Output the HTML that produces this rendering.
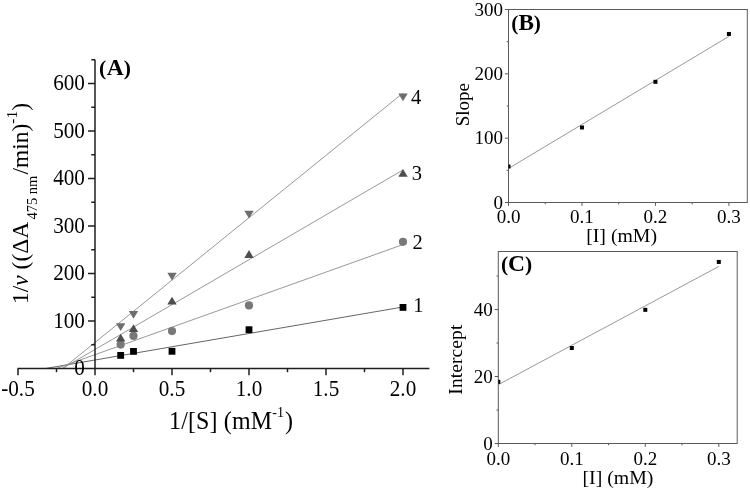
<!DOCTYPE html><html><head><meta charset="utf-8"><style>html,body{margin:0;padding:0;background:#fff;width:750px;height:489px;overflow:hidden}svg{display:block;will-change:transform}text{font-family:"Liberation Serif",serif}</style></head><body><svg width="750" height="489" viewBox="0 0 750 489">
<rect width="750" height="489" fill="#fff"/>
<defs><clipPath id="cb"><rect x="508.5" y="9.5" width="238.8" height="193"/></clipPath><clipPath id="cc"><rect x="498.3" y="251.5" width="238.9" height="192"/></clipPath></defs>
<line x1="45.60" y1="368.50" x2="403.00" y2="306.99" stroke="#555" stroke-width="0.9"/>
<line x1="56.33" y1="368.50" x2="403.00" y2="244.57" stroke="#8c8c8c" stroke-width="0.9"/>
<line x1="62.41" y1="368.50" x2="403.00" y2="169.95" stroke="#8c8c8c" stroke-width="0.9"/>
<line x1="62.86" y1="368.50" x2="403.00" y2="93.00" stroke="#8c8c8c" stroke-width="0.9"/>
<g stroke="#1e1e1e" stroke-width="1.5" fill="none">
<line x1="95" y1="59.75" x2="95" y2="375.3"/>
<line x1="17.6" y1="368.5" x2="429.4" y2="368.5"/>
<line x1="91.30" y1="344.75" x2="95" y2="344.75"/>
<line x1="88.00" y1="321.00" x2="95" y2="321.00"/>
<line x1="91.30" y1="297.25" x2="95" y2="297.25"/>
<line x1="88.00" y1="273.50" x2="95" y2="273.50"/>
<line x1="91.30" y1="249.75" x2="95" y2="249.75"/>
<line x1="88.00" y1="226.00" x2="95" y2="226.00"/>
<line x1="91.30" y1="202.25" x2="95" y2="202.25"/>
<line x1="88.00" y1="178.50" x2="95" y2="178.50"/>
<line x1="91.30" y1="154.75" x2="95" y2="154.75"/>
<line x1="88.00" y1="131.00" x2="95" y2="131.00"/>
<line x1="91.30" y1="107.25" x2="95" y2="107.25"/>
<line x1="88.00" y1="83.50" x2="95" y2="83.50"/>
<line x1="91.30" y1="59.75" x2="95" y2="59.75"/>
<line x1="18.00" y1="368.5" x2="18.00" y2="375.30"/>
<line x1="56.50" y1="368.5" x2="56.50" y2="372.20"/>
<line x1="133.50" y1="368.5" x2="133.50" y2="372.20"/>
<line x1="172.00" y1="368.5" x2="172.00" y2="375.30"/>
<line x1="210.50" y1="368.5" x2="210.50" y2="372.20"/>
<line x1="249.00" y1="368.5" x2="249.00" y2="375.30"/>
<line x1="287.50" y1="368.5" x2="287.50" y2="372.20"/>
<line x1="326.00" y1="368.5" x2="326.00" y2="375.30"/>
<line x1="364.50" y1="368.5" x2="364.50" y2="372.20"/>
<line x1="403.00" y1="368.5" x2="403.00" y2="375.30"/>
</g>
<rect x="117.27" y="351.99" width="6.8" height="6.8" fill="#000"/>
<rect x="130.10" y="348.00" width="6.8" height="6.8" fill="#000"/>
<rect x="168.60" y="347.91" width="6.8" height="6.8" fill="#000"/>
<rect x="245.60" y="326.29" width="6.8" height="6.8" fill="#000"/>
<rect x="399.60" y="304.02" width="6.8" height="6.8" fill="#000"/>
<circle cx="120.67" cy="344.61" r="4.1" fill="#787878"/>
<circle cx="133.50" cy="335.92" r="4.1" fill="#787878"/>
<circle cx="172.00" cy="331.12" r="4.1" fill="#787878"/>
<circle cx="249.00" cy="305.42" r="4.1" fill="#787878"/>
<circle cx="403.00" cy="241.82" r="4.1" fill="#787878"/>
<polygon points="115.97,341.52 125.37,341.52 120.67,333.73" fill="#4e4e4e"/>
<polygon points="128.80,332.02 138.20,332.02 133.50,324.23" fill="#4e4e4e"/>
<polygon points="167.30,304.47 176.70,304.47 172.00,296.68" fill="#4e4e4e"/>
<polygon points="244.30,257.93 253.70,257.93 249.00,250.12" fill="#4e4e4e"/>
<polygon points="398.30,176.70 407.70,176.70 403.00,168.90" fill="#4e4e4e"/>
<polygon points="115.97,323.18 125.37,323.18 120.67,330.98" fill="#6e6e6e"/>
<polygon points="128.80,310.93 138.20,310.93 133.50,318.72" fill="#6e6e6e"/>
<polygon points="167.30,272.69 176.70,272.69 172.00,280.49" fill="#6e6e6e"/>
<polygon points="244.30,210.79 253.70,210.79 249.00,218.59" fill="#6e6e6e"/>
<polygon points="398.30,93.38 407.70,93.38 403.00,101.18" fill="#6e6e6e"/>
<g font-family="Liberation Serif" font-size="21.5" fill="#000">
<text transform="translate(84.9,375.06) scale(0.985,1.06)" text-anchor="end">0</text>
<text transform="translate(84.9,327.56) scale(0.985,1.06)" text-anchor="end">100</text>
<text transform="translate(84.9,280.06) scale(0.985,1.06)" text-anchor="end">200</text>
<text transform="translate(84.9,232.56) scale(0.985,1.06)" text-anchor="end">300</text>
<text transform="translate(84.9,185.06) scale(0.985,1.06)" text-anchor="end">400</text>
<text transform="translate(84.9,137.56) scale(0.985,1.06)" text-anchor="end">500</text>
<text transform="translate(84.9,90.06) scale(0.985,1.06)" text-anchor="end">600</text>
<text transform="translate(18.00,395.7) scale(0.985,1.06)" text-anchor="middle">-0.5</text>
<text transform="translate(95.00,395.7) scale(0.985,1.06)" text-anchor="middle">0.0</text>
<text transform="translate(172.00,395.7) scale(0.985,1.06)" text-anchor="middle">0.5</text>
<text transform="translate(249.00,395.7) scale(0.985,1.06)" text-anchor="middle">1.0</text>
<text transform="translate(326.00,395.7) scale(0.985,1.06)" text-anchor="middle">1.5</text>
<text transform="translate(403.00,395.7) scale(0.985,1.06)" text-anchor="middle">2.0</text>
</g>
<g font-family="Liberation Serif" font-size="20.5" fill="#000">
<text x="411.0" y="103.5">4</text>
<text x="411.8" y="180.2">3</text>
<text x="412.5" y="248.9">2</text>
<text x="413.2" y="311.7">1</text>
</g>
<text x="98.9" y="74.7" font-family="Liberation Serif" font-weight="bold" font-size="21.6">(<tspan font-size="23.5" dx="0.7">A</tspan>)</text>
<text transform="translate(169,429.3) scale(1,1.05)" font-family="Liberation Serif" font-size="24" letter-spacing="0.15">1/[S] (mM<tspan dy="-11.3" font-size="14">-1</tspan><tspan dy="11.3" dx="0.8">)</tspan></text>
<text transform="translate(28.2,304) rotate(-90)" font-family="Liberation Serif" font-size="23.5">1/<tspan font-style="italic">v</tspan> ((ΔA<tspan x="84.4" y="8.6" font-size="14.5">475 nm</tspan><tspan x="129.4" y="0">/min)</tspan><tspan y="-11.5" font-size="15.5">-1</tspan><tspan y="0">)</tspan></text>
<g stroke="#5a5a5a" stroke-width="1" fill="none">
<rect x="508.5" y="9.5" width="238.8" height="193"/>
<line x1="504.90" y1="202.50" x2="508.5" y2="202.50"/>
<line x1="506.70" y1="170.34" x2="508.5" y2="170.34"/>
<line x1="504.90" y1="138.17" x2="508.5" y2="138.17"/>
<line x1="506.70" y1="106.00" x2="508.5" y2="106.00"/>
<line x1="504.90" y1="73.84" x2="508.5" y2="73.84"/>
<line x1="506.70" y1="41.68" x2="508.5" y2="41.68"/>
<line x1="504.90" y1="9.51" x2="508.5" y2="9.51"/>
<line x1="508.50" y1="202.5" x2="508.50" y2="205.90"/>
<line x1="545.24" y1="202.5" x2="545.24" y2="204.30"/>
<line x1="581.97" y1="202.5" x2="581.97" y2="205.90"/>
<line x1="618.71" y1="202.5" x2="618.71" y2="204.30"/>
<line x1="655.44" y1="202.5" x2="655.44" y2="205.90"/>
<line x1="692.17" y1="202.5" x2="692.17" y2="204.30"/>
<line x1="728.91" y1="202.5" x2="728.91" y2="205.90"/>
</g>
<g clip-path="url(#cb)">
<line x1="508.50" y1="168.47" x2="728.91" y2="36.40" stroke="#8c8c8c" stroke-width="0.9"/>
<rect x="506.50" y="164.48" width="4" height="4" fill="#000"/>
<rect x="579.97" y="125.49" width="4" height="4" fill="#000"/>
<rect x="653.44" y="79.82" width="4" height="4" fill="#000"/>
<rect x="726.91" y="31.96" width="4" height="4" fill="#000"/>
</g>
<g font-family="Liberation Serif" font-size="19" fill="#000">
<text x="503" y="208.70" text-anchor="end">0</text>
<text x="503" y="144.37" text-anchor="end">100</text>
<text x="503" y="80.04" text-anchor="end">200</text>
<text x="503" y="15.71" text-anchor="end">300</text>
<text x="508.50" y="223.3" text-anchor="middle">0.0</text>
<text x="581.97" y="223.3" text-anchor="middle">0.1</text>
<text x="655.44" y="223.3" text-anchor="middle">0.2</text>
<text x="728.91" y="223.3" text-anchor="middle">0.3</text>
</g>
<text x="586.2" y="241.8" font-family="Liberation Serif" font-size="19.8">[I] (mM)</text>
<text transform="translate(468.8,126.3) rotate(-90)" font-family="Liberation Serif" font-size="19">Slope</text>
<text x="511.3" y="30.4" font-family="Liberation Serif" font-weight="bold" font-size="21.3">(<tspan font-size="23.2">B</tspan>)</text>
<g stroke="#5a5a5a" stroke-width="1" fill="none">
<rect x="498.3" y="251.5" width="238.9" height="192"/>
<line x1="494.70" y1="443.50" x2="498.3" y2="443.50"/>
<line x1="496.50" y1="410.00" x2="498.3" y2="410.00"/>
<line x1="494.70" y1="376.50" x2="498.3" y2="376.50"/>
<line x1="496.50" y1="343.00" x2="498.3" y2="343.00"/>
<line x1="494.70" y1="309.50" x2="498.3" y2="309.50"/>
<line x1="496.50" y1="276.00" x2="498.3" y2="276.00"/>
<line x1="498.30" y1="443.5" x2="498.30" y2="446.90"/>
<line x1="535.05" y1="443.5" x2="535.05" y2="445.30"/>
<line x1="571.80" y1="443.5" x2="571.80" y2="446.90"/>
<line x1="608.55" y1="443.5" x2="608.55" y2="445.30"/>
<line x1="645.30" y1="443.5" x2="645.30" y2="446.90"/>
<line x1="682.05" y1="443.5" x2="682.05" y2="445.30"/>
<line x1="718.80" y1="443.5" x2="718.80" y2="446.90"/>
</g>
<g clip-path="url(#cc)">
<line x1="498.30" y1="384.71" x2="718.80" y2="266.45" stroke="#8c8c8c" stroke-width="0.9"/>
<rect x="496.30" y="379.86" width="4" height="4" fill="#000"/>
<rect x="569.80" y="346.02" width="4" height="4" fill="#000"/>
<rect x="643.30" y="307.84" width="4" height="4" fill="#000"/>
<rect x="716.80" y="259.93" width="4" height="4" fill="#000"/>
</g>
<g font-family="Liberation Serif" font-size="19" fill="#000">
<text x="492.8" y="449.70" text-anchor="end">0</text>
<text x="492.8" y="382.70" text-anchor="end">20</text>
<text x="492.8" y="315.70" text-anchor="end">40</text>
<text x="498.30" y="464.6" text-anchor="middle">0.0</text>
<text x="571.80" y="464.6" text-anchor="middle">0.1</text>
<text x="645.30" y="464.6" text-anchor="middle">0.2</text>
<text x="718.80" y="464.6" text-anchor="middle">0.3</text>
</g>
<text x="582.5" y="483.6" font-family="Liberation Serif" font-size="19.8">[I] (mM)</text>
<text transform="translate(462.2,394.7) rotate(-90)" font-family="Liberation Serif" font-size="19.5" letter-spacing="0.1">Intercept</text>
<text x="500.9" y="271.2" font-family="Liberation Serif" font-weight="bold" font-size="21.5">(<tspan font-size="23.5">C</tspan>)</text>
</svg></body></html>
